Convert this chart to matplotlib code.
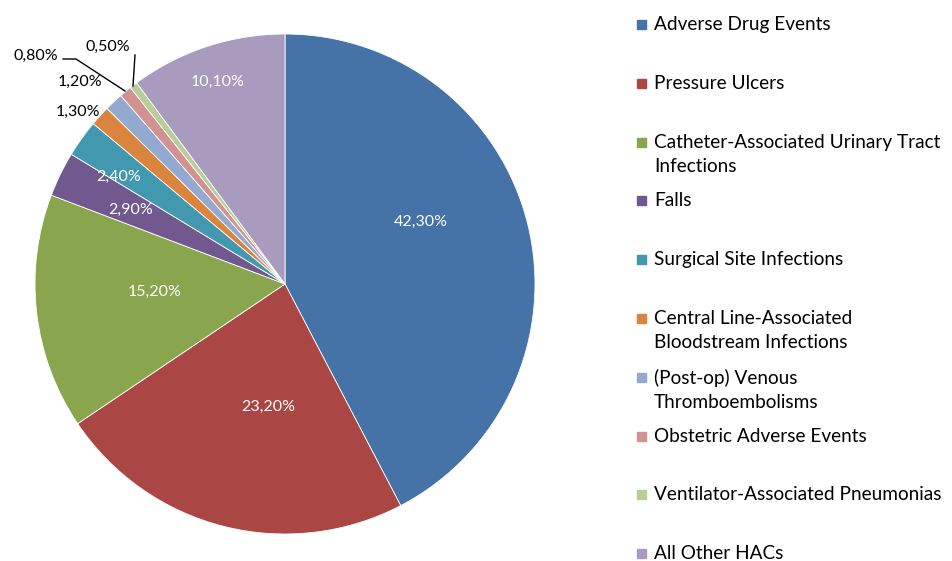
import numpy as np
import matplotlib
matplotlib.use("Agg")
import matplotlib.pyplot as plt
from matplotlib.patches import Rectangle

plt.rcParams['font.family'] = ['Lato', 'DejaVu Sans']

# data
categories = ["Adverse Drug Events", "Pressure Ulcers",
              "Catheter-Associated Urinary Tract\nInfections", "Falls",
              "Surgical Site Infections",
              "Central Line-Associated\nBloodstream Infections",
              "(Post-op) Venous\nThromboembolisms", "Obstetric Adverse Events",
              "Ventilator-Associated Pneumonias", "All Other HACs"]
shares = [42.3, 23.2, 15.2, 2.9, 2.4, 1.3, 1.2, 0.8, 0.5, 10.1]
labels = ["42,30%", "23,20%", "15,20%", "2,90%", "2,40%",
          "1,30%", "1,20%", "0,80%", "0,50%", "10,10%"]
colors = ["#4572A7", "#AA4643", "#89A54E", "#71588F", "#4198AF",
          "#DB843D", "#93A9CF", "#D19392", "#B9CD96", "#A99BBD"]

W, H = 952, 561
fig = plt.figure(figsize=(W / 100, H / 100), dpi=100)
cx, cy, R = 285, 284, 250
ax = fig.add_axes([(cx - R) / W, (H - cy - R) / H, 2 * R / W, 2 * R / H])

wedges, _ = ax.pie(shares, colors=colors, startangle=90, counterclock=False,
                   radius=1, wedgeprops=dict(edgecolor="white", linewidth=0.6))
ax.set_xlim(-1, 1)
ax.set_ylim(-1, 1)
ax.axis("off")

# inner labels: fraction of radius + small pixel nudge (x right, y down)
dist = [0.6, 0.5, 0.53, 0.7, 0.8, None, None, None, None, 0.86]
nudge = [(-10, -26), (14, 2), (1, -7), (3, 3), (-4, 9),
         None, None, None, None, (0, 2)]
for w, lab, d, n in zip(wedges, labels, dist, nudge):
    if d is None:
        continue
    ang = np.deg2rad((w.theta1 + w.theta2) / 2)
    ax.text(d * np.cos(ang) + n[0] / R, d * np.sin(ang) - n[1] / R, lab,
            color="white", ha="center", va="center", fontsize=11.5)

def px(x, y):
    return ((x - cx) / R, (cy - y) / R)

# small outside labels
ax.text(*px(78, 112), labels[5], ha="center", va="center", fontsize=11.5)
ax.text(*px(80, 82), labels[6], ha="center", va="center", fontsize=11.5)
ax.text(*px(36, 56), labels[7], ha="center", va="center", fontsize=11.5)
ax.text(*px(108, 47), labels[8], ha="center", va="center", fontsize=11.5)
for pts in ([(63, 59), (76, 59), (125, 91)], [(135, 55), (133, 86)]):
    xs, ys = zip(*[px(*p) for p in pts])
    ax.plot(xs, ys, color="black", lw=1, clip_on=False)

# legend
top = 24
step = 58.8
for i, (cat, col) in enumerate(zip(categories, colors)):
    y = top + i * step
    fig.patches.append(Rectangle((637 / W, 1 - (y + 5) / H), 9 / W, 9 / H,
                                 transform=fig.transFigure, color=col))
    fig.text(654 / W, 1 - (y - 8) / H, cat, ha="left", va="top",
             fontsize=13.7, linespacing=1.5)

fig.savefig("out.png", dpi=100)
